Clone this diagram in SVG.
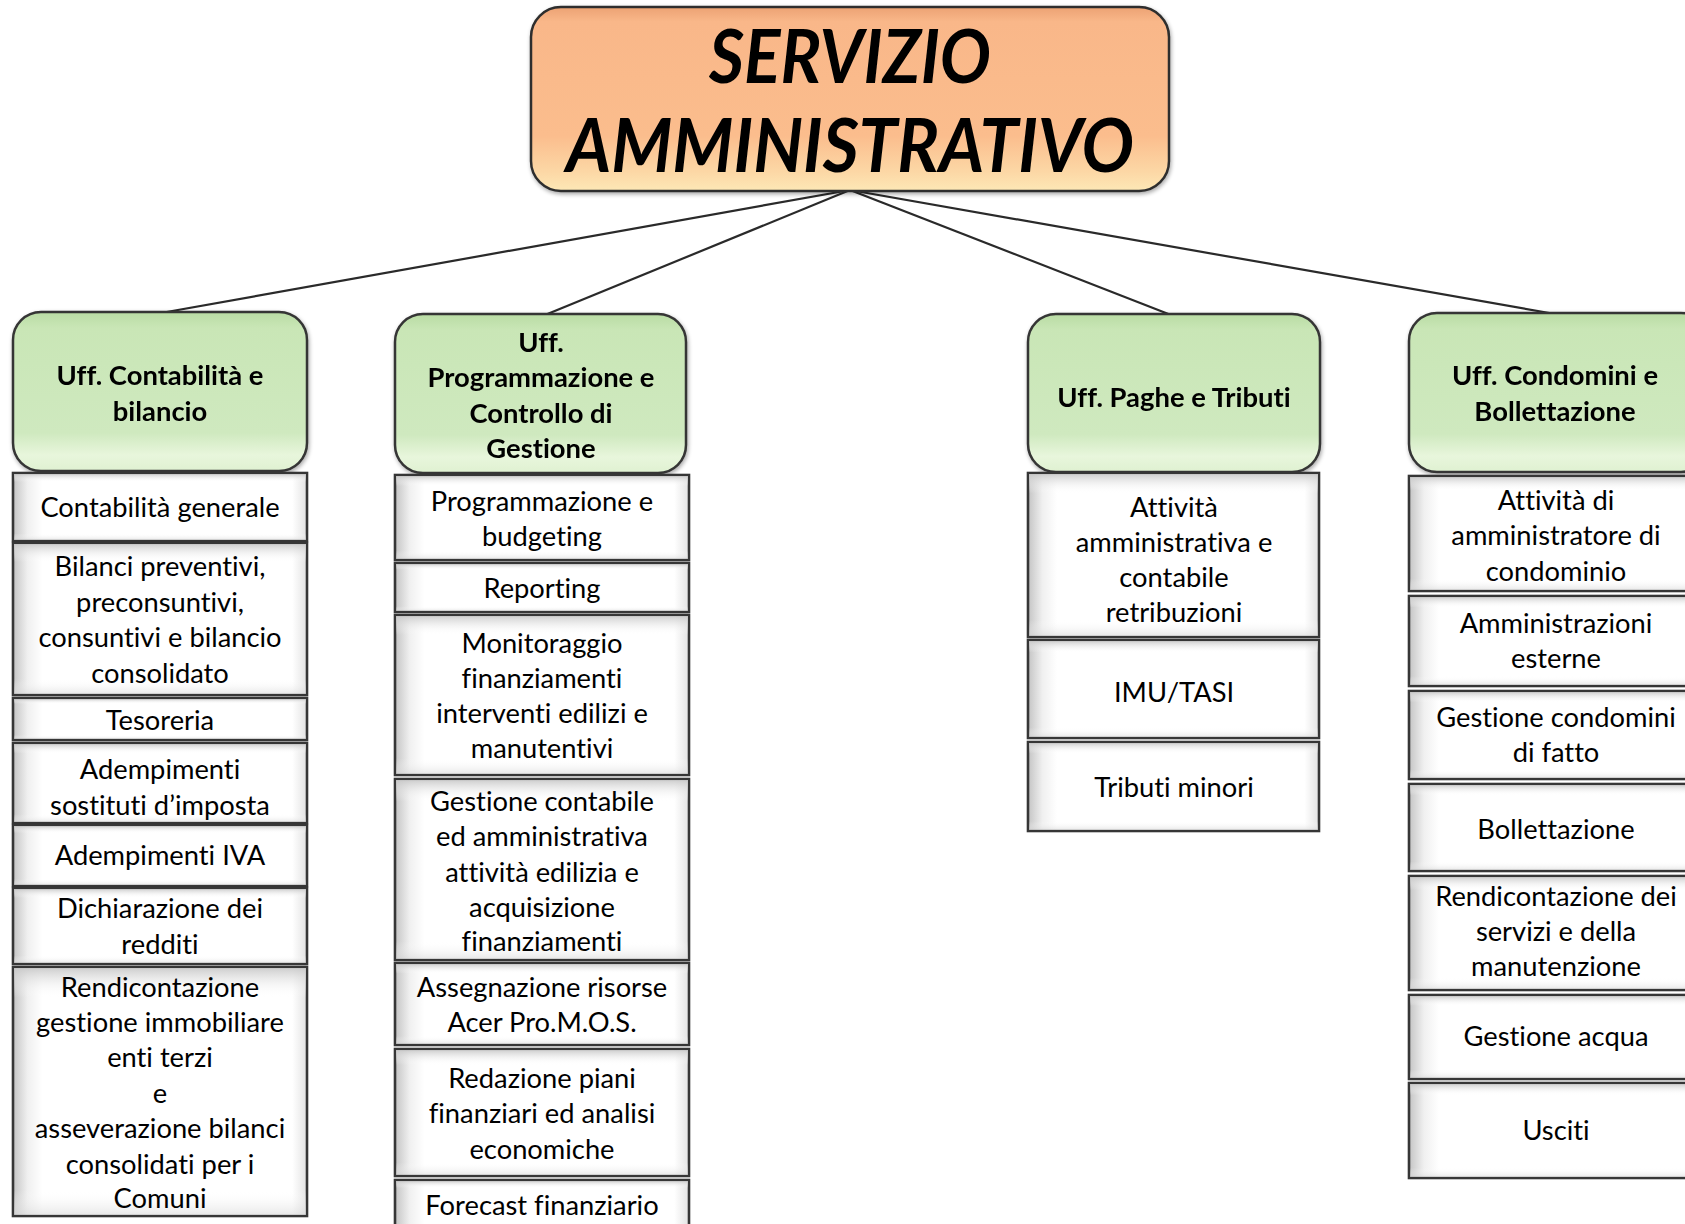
<svg xmlns="http://www.w3.org/2000/svg" width="1685" height="1224" viewBox="0 0 1685 1224">
<defs>
<linearGradient id="gOrange" x1="0" y1="0" x2="0" y2="1">
<stop offset="0" stop-color="#eca273"/><stop offset="0.08" stop-color="#f9b789"/><stop offset="0.7" stop-color="#fbbd8d"/><stop offset="0.9" stop-color="#fcd8a6"/><stop offset="1" stop-color="#fde8b6"/>
</linearGradient>
<linearGradient id="gGreen" x1="0" y1="0" x2="0" y2="1">
<stop offset="0" stop-color="#b9dca4"/><stop offset="0.1" stop-color="#c9e6b6"/><stop offset="0.76" stop-color="#cfe9bf"/><stop offset="0.9" stop-color="#e8f6dc"/><stop offset="1" stop-color="#dff1d1"/>
</linearGradient>
<linearGradient id="gItemH" x1="0" y1="0" x2="1" y2="0">
<stop offset="0" stop-color="#c4c4c4"/><stop offset="0.05" stop-color="#f0f0f0"/><stop offset="0.1" stop-color="#ffffff"/><stop offset="0.95" stop-color="#ffffff"/><stop offset="1" stop-color="#e2e2e2"/>
</linearGradient>
<linearGradient id="gItemV" x1="0" y1="0" x2="0" y2="1">
<stop offset="0" stop-color="#c8c8c8" stop-opacity="0.9"/><stop offset="0.12" stop-color="#ffffff" stop-opacity="0"/><stop offset="0.9" stop-color="#ffffff" stop-opacity="0"/><stop offset="1" stop-color="#d8d8d8" stop-opacity="0.6"/>
</linearGradient>
<filter id="shadow" x="-5%" y="-5%" width="110%" height="115%">
<feGaussianBlur in="SourceAlpha" stdDeviation="2"/><feOffset dx="1" dy="2" result="b"/>
<feComponentTransfer><feFuncA type="linear" slope="0.35"/></feComponentTransfer>
<feMerge><feMergeNode/><feMergeNode in="SourceGraphic"/></feMerge>
</filter>
</defs>
<style>
.top{fill:url(#gOrange);stroke:#2e2e2e;stroke-width:2.5}
.hdr{fill:url(#gGreen);stroke:#353535;stroke-width:2.5}
.item{fill:url(#gItemH);stroke:#363636;stroke-width:2.6}
.iov{fill:url(#gItemV);stroke:none}
text{font-variant-ligatures:none}
.title{font-family:Lato,"Liberation Sans",sans-serif;font-weight:bold;font-style:italic;font-size:74px;fill:#000;text-anchor:middle}
.ht{font-family:Lato,"Liberation Sans",sans-serif;font-weight:bold;font-size:27.4px;fill:#000;text-anchor:middle}
.it{font-family:Lato,"Liberation Sans",sans-serif;font-size:27.3px;fill:#000;text-anchor:middle}
.conn{stroke:#2a2a2a;stroke-width:2.2;fill:none}
</style>
<rect width="1685" height="1224" fill="#ffffff"/>

<g id="connectors">
<line class="conn" x1="850" y1="190" x2="161" y2="313"/>
<line class="conn" x1="850" y1="190" x2="545" y2="315"/>
<line class="conn" x1="850" y1="190" x2="1171" y2="315"/>
<line class="conn" x1="850" y1="190" x2="1555" y2="314"/>
</g>

<g id="servizio-amministrativo" filter="url(#shadow)">
<rect class="top" x="531" y="7" width="638" height="184" rx="30"/>
<text class="title" x="850" y="83" textLength="282" lengthAdjust="spacingAndGlyphs">SERVIZIO</text>
<text class="title" x="850" y="172" textLength="568" lengthAdjust="spacingAndGlyphs">AMMINISTRATIVO</text>
</g>

<!-- Column 1 -->
<g id="uff-contabilita" filter="url(#shadow)">
<rect class="hdr" x="13" y="312" width="294" height="159" rx="28"/>
<text class="ht" x="160" y="385">Uff. Contabilità e</text>
<text class="ht" x="160" y="421">bilancio</text>
</g>
<g id="c1-contabilita-generale">
<rect class="item" x="13" y="473" width="294" height="68"/><rect class="iov" x="14" y="474" width="292" height="66"/>
<text class="it" x="160" y="517">Contabilità generale</text>
</g>
<g id="c1-bilanci">
<rect class="item" x="13" y="543" width="294" height="152"/><rect class="iov" x="14" y="544" width="292" height="150"/>
<text class="it" x="160" y="576">Bilanci preventivi,</text>
<text class="it" x="160" y="612">preconsuntivi,</text>
<text class="it" x="160" y="647">consuntivi e bilancio</text>
<text class="it" x="160" y="683">consolidato</text>
</g>
<g id="c1-tesoreria">
<rect class="item" x="13" y="698" width="294" height="42"/><rect class="iov" x="14" y="699" width="292" height="40"/>
<text class="it" x="160" y="730">Tesoreria</text>
</g>
<g id="c1-sostituti">
<rect class="item" x="13" y="743" width="294" height="80"/><rect class="iov" x="14" y="744" width="292" height="78"/>
<text class="it" x="160" y="779">Adempimenti</text>
<text class="it" x="160" y="815">sostituti d’imposta</text>
</g>
<g id="c1-iva">
<rect class="item" x="13" y="825" width="294" height="61"/><rect class="iov" x="14" y="826" width="292" height="59"/>
<text class="it" x="160" y="865">Adempimenti IVA</text>
</g>
<g id="c1-dichiarazione">
<rect class="item" x="13" y="888" width="294" height="76"/><rect class="iov" x="14" y="889" width="292" height="74"/>
<text class="it" x="160" y="918">Dichiarazione dei</text>
<text class="it" x="160" y="954">redditi</text>
</g>
<g id="c1-rendicontazione">
<rect class="item" x="13" y="967" width="294" height="249"/><rect class="iov" x="14" y="968" width="292" height="247"/>
<text class="it" x="160" y="997">Rendicontazione</text>
<text class="it" x="160" y="1032">gestione immobiliare</text>
<text class="it" x="160" y="1067">enti terzi</text>
<text class="it" x="160" y="1103">e</text>
<text class="it" x="160" y="1138">asseverazione bilanci</text>
<text class="it" x="160" y="1174">consolidati per i</text>
<text class="it" x="160" y="1208">Comuni</text>
</g>

<!-- Column 2 -->
<g id="uff-programmazione" filter="url(#shadow)">
<rect class="hdr" x="395" y="314" width="291" height="159" rx="28"/>
<text class="ht" x="541" y="352">Uff.</text>
<text class="ht" x="541" y="387">Programmazione e</text>
<text class="ht" x="541" y="423">Controllo di</text>
<text class="ht" x="541" y="458">Gestione</text>
</g>
<g id="c2-budgeting">
<rect class="item" x="395" y="475" width="294" height="85"/><rect class="iov" x="396" y="476" width="292" height="83"/>
<text class="it" x="542" y="511">Programmazione e</text>
<text class="it" x="542" y="546">budgeting</text>
</g>
<g id="c2-reporting">
<rect class="item" x="395" y="563" width="294" height="49"/><rect class="iov" x="396" y="564" width="292" height="47"/>
<text class="it" x="542" y="598">Reporting</text>
</g>
<g id="c2-monitoraggio">
<rect class="item" x="395" y="615" width="294" height="160"/><rect class="iov" x="396" y="616" width="292" height="158"/>
<text class="it" x="542" y="653">Monitoraggio</text>
<text class="it" x="542" y="688">finanziamenti</text>
<text class="it" x="542" y="723">interventi edilizi e</text>
<text class="it" x="542" y="758">manutentivi</text>
</g>
<g id="c2-gestione-contabile">
<rect class="item" x="395" y="779" width="294" height="181"/><rect class="iov" x="396" y="780" width="292" height="179"/>
<text class="it" x="542" y="811">Gestione contabile</text>
<text class="it" x="542" y="846">ed amministrativa</text>
<text class="it" x="542" y="882">attività edilizia e</text>
<text class="it" x="542" y="917">acquisizione</text>
<text class="it" x="542" y="951">finanziamenti</text>
</g>
<g id="c2-assegnazione">
<rect class="item" x="395" y="963" width="294" height="82"/><rect class="iov" x="396" y="964" width="292" height="80"/>
<text class="it" x="542" y="997">Assegnazione risorse</text>
<text class="it" x="542" y="1032">Acer Pro.M.O.S.</text>
</g>
<g id="c2-redazione">
<rect class="item" x="395" y="1049" width="294" height="127"/><rect class="iov" x="396" y="1050" width="292" height="125"/>
<text class="it" x="542" y="1088">Redazione piani</text>
<text class="it" x="542" y="1123">finanziari ed analisi</text>
<text class="it" x="542" y="1159">economiche</text>
</g>
<g id="c2-forecast">
<rect class="item" x="395" y="1180" width="294" height="60"/><rect class="iov" x="396" y="1181" width="292" height="58"/>
<text class="it" x="542" y="1215">Forecast finanziario</text>
</g>

<!-- Column 3 -->
<g id="uff-paghe" filter="url(#shadow)">
<rect class="hdr" x="1028" y="314" width="292" height="158" rx="28"/>
<text class="ht" x="1174" y="407">Uff. Paghe e Tributi</text>
</g>
<g id="c3-retribuzioni">
<rect class="item" x="1028" y="473" width="291" height="164"/><rect class="iov" x="1029" y="474" width="289" height="162"/>
<text class="it" x="1174" y="517">Attività</text>
<text class="it" x="1174" y="552">amministrativa e</text>
<text class="it" x="1174" y="587">contabile</text>
<text class="it" x="1174" y="622">retribuzioni</text>
</g>
<g id="c3-imu">
<rect class="item" x="1028" y="640" width="291" height="98"/><rect class="iov" x="1029" y="641" width="289" height="96"/>
<text class="it" x="1174" y="702">IMU/TASI</text>
</g>
<g id="c3-tributi">
<rect class="item" x="1028" y="742" width="291" height="89"/><rect class="iov" x="1029" y="743" width="289" height="87"/>
<text class="it" x="1174" y="797">Tributi minori</text>
</g>

<!-- Column 4 -->
<g id="uff-condomini" filter="url(#shadow)">
<rect class="hdr" x="1409" y="313" width="300" height="159" rx="28"/>
<text class="ht" x="1555" y="385">Uff. Condomini e</text>
<text class="ht" x="1555" y="421">Bollettazione</text>
</g>
<g id="c4-amministratore">
<rect class="item" x="1409" y="476" width="300" height="115"/><rect class="iov" x="1410" y="477" width="298" height="113"/>
<text class="it" x="1556" y="510">Attività di</text>
<text class="it" x="1556" y="545">amministratore di</text>
<text class="it" x="1556" y="581">condominio</text>
</g>
<g id="c4-esterne">
<rect class="item" x="1409" y="596" width="300" height="90"/><rect class="iov" x="1410" y="597" width="298" height="88"/>
<text class="it" x="1556" y="633">Amministrazioni</text>
<text class="it" x="1556" y="668">esterne</text>
</g>
<g id="c4-condomini-fatto">
<rect class="item" x="1409" y="691" width="300" height="88"/><rect class="iov" x="1410" y="692" width="298" height="86"/>
<text class="it" x="1556" y="727">Gestione condomini</text>
<text class="it" x="1556" y="762">di fatto</text>
</g>
<g id="c4-bollettazione">
<rect class="item" x="1409" y="784" width="300" height="87"/><rect class="iov" x="1410" y="785" width="298" height="85"/>
<text class="it" x="1556" y="839">Bollettazione</text>
</g>
<g id="c4-rendicontazione">
<rect class="item" x="1409" y="876" width="300" height="114"/><rect class="iov" x="1410" y="877" width="298" height="112"/>
<text class="it" x="1556" y="906">Rendicontazione dei</text>
<text class="it" x="1556" y="941">servizi e della</text>
<text class="it" x="1556" y="976">manutenzione</text>
</g>
<g id="c4-acqua">
<rect class="item" x="1409" y="995" width="300" height="84"/><rect class="iov" x="1410" y="996" width="298" height="82"/>
<text class="it" x="1556" y="1046">Gestione acqua</text>
</g>
<g id="c4-usciti">
<rect class="item" x="1409" y="1083" width="300" height="95"/><rect class="iov" x="1410" y="1084" width="298" height="93"/>
<text class="it" x="1556" y="1140">Usciti</text>
</g>
</svg>
